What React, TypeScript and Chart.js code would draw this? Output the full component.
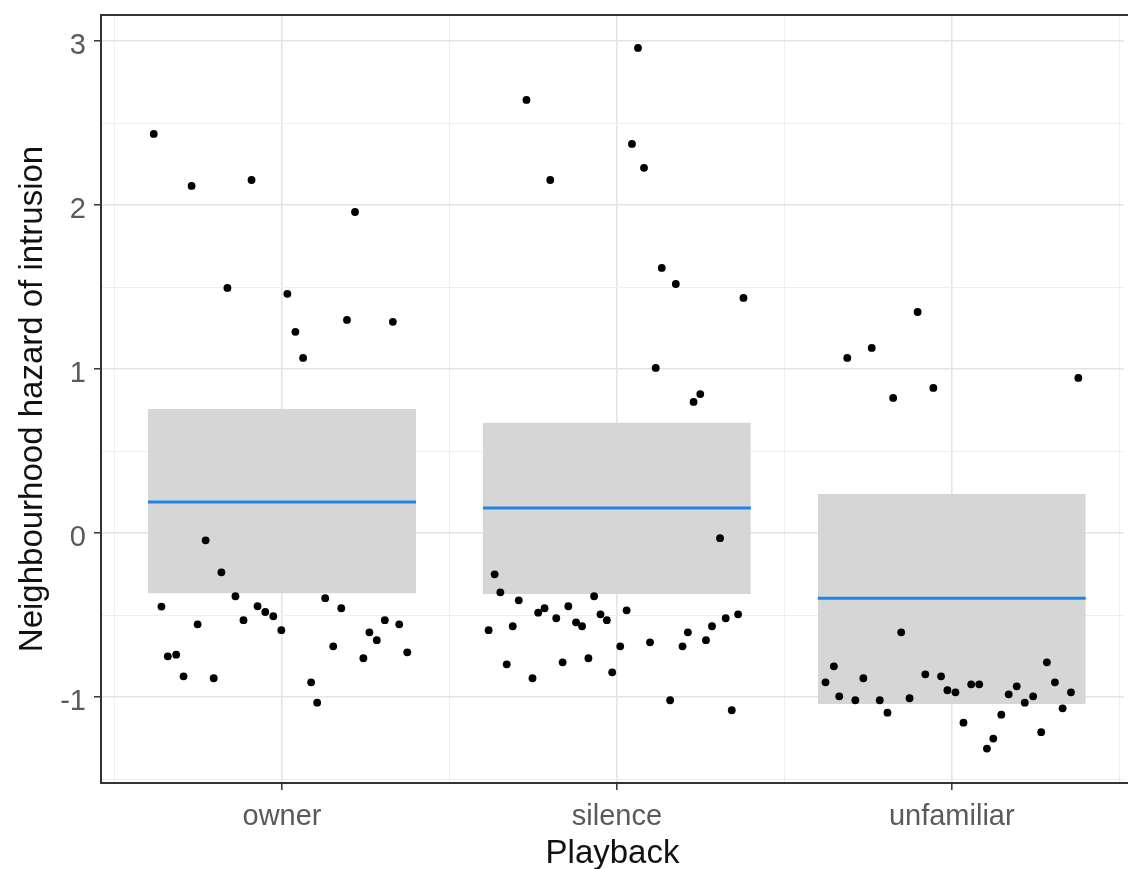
import React, { useEffect, useRef } from 'react';
import { Chart, registerables } from 'chart.js';

Chart.register(...registerables);

const categories = ['owner', 'silence', 'unfamiliar'];

// horizontal jitter (offset from category centre) and value of each point
const ownerJitter = [-0.383, -0.270, -0.091, 0.218, -0.163, 0.016, 0.040, 0.063, 0.194, 0.331, -0.228, -0.181, -0.139, -0.360, -0.073, -0.050, -0.026, -0.252, -0.115, -0.002, -0.341, -0.316, -0.294, -0.204, 0.087, 0.105, 0.129, 0.177, 0.153, 0.307, 0.350, 0.261, 0.283, 0.243, 0.374];
const ownerValues = [2.435, 2.118, 2.154, 1.959, 1.496, 1.460, 1.228, 1.069, 1.301, 1.289, -0.043, -0.238, -0.384, -0.447, -0.445, -0.480, -0.506, -0.555, -0.530, -0.591, -0.750, -0.740, -0.872, -0.884, -0.909, -1.033, -0.396, -0.457, -0.689, -0.530, -0.555, -0.604, -0.652, -0.762, -0.726];

const silenceJitter = [-0.270, -0.199, 0.045, 0.081, 0.134, 0.176, 0.378, 0.116, 0.249, 0.229, 0.063, 0.308, -0.365, -0.348, -0.293, -0.068, -0.235, -0.216, -0.145, -0.181, -0.122, -0.104, -0.049, -0.030, 0.029, -0.383, -0.311, -0.329, -0.252, -0.162, -0.085, -0.014, 0.010, 0.099, 0.196, 0.212, 0.266, 0.284, 0.325, 0.362, 0.159, 0.343];
const silenceValues = [2.642, 2.154, 2.374, 2.228, 1.618, 1.520, 1.435, 1.008, 0.849, 0.801, 2.959, -0.030, -0.250, -0.360, -0.409, -0.384, -0.484, -0.457, -0.445, -0.518, -0.543, -0.567, -0.494, -0.530, -0.470, -0.591, -0.567, -0.799, -0.884, -0.787, -0.762, -0.848, -0.689, -0.665, -0.689, -0.604, -0.652, -0.567, -0.518, -0.494, -1.018, -1.079];

const unfamiliarJitter = [-0.102, -0.239, -0.312, -0.055, -0.175, 0.378, -0.151, -0.377, -0.352, -0.336, -0.288, -0.264, -0.215, -0.192, -0.126, -0.079, -0.032, -0.013, 0.011, 0.035, 0.058, 0.082, 0.105, 0.124, 0.148, 0.170, 0.194, 0.218, 0.243, 0.267, 0.284, 0.308, 0.331, 0.356];
const unfamiliarValues = [1.349, 1.130, 1.069, 0.886, 0.825, 0.947, -0.604, -0.909, -0.811, -0.994, -1.018, -0.884, -1.018, -1.094, -1.006, -0.860, -0.872, -0.957, -0.970, -1.155, -0.921, -0.921, -1.313, -1.252, -1.106, -0.982, -0.933, -1.033, -0.994, -1.213, -0.787, -0.909, -1.067, -0.970];

// model estimates per category
const meanValues = [0.191, 0.154, -0.396];
const ciLower = [-0.366, -0.370, -1.041];
const ciUpper = [0.758, 0.674, 0.240];
const boxHalfWidth = 0.4;

// axes
const yTickValues = [-1.5, -1, -0.5, 0, 0.5, 1, 1.5, 2, 2.5, 3];
const xTickValues = [0.5, 1, 1.5, 2, 2.5, 3, 3.5];
const xMin = 0.4595;
const xMax = 3.5143;
const yMin = -1.5226;
const yMax = 3.16;

const FONT = '"Liberation Sans", Arial, sans-serif';

const panelBorder = {
  id: 'panelBorder',
  afterDatasetsDraw(chart: any) {
    const { ctx, chartArea } = chart;
    const { left, top, right, bottom } = chartArea;
    ctx.save();
    ctx.strokeStyle = '#333333';
    ctx.lineWidth = 2;
    ctx.strokeRect(left, top, right - left + 20, bottom - top);
    ctx.restore();
  },
};

export default function App() {
  const ref = useRef<HTMLCanvasElement | null>(null);

  useEffect(() => {
    if (!ref.current) return;
    const jitters = [ownerJitter, silenceJitter, unfamiliarJitter];
    const values = [ownerValues, silenceValues, unfamiliarValues];
    const points: { x: number; y: number }[] = [];
    jitters.forEach((jit, ci) => {
      jit.forEach((j, i) => points.push({ x: ci + 1 + j, y: values[ci][i] }));
    });

    const datasets: any[] = [];
    datasets.push({
      type: 'scatter',
      data: points,
      pointRadius: 3.9,
      pointBackgroundColor: '#000000',
      pointBorderWidth: 0,
      order: 0,
    });
    categories.forEach((_, ci) => {
      const c = ci + 1;
      datasets.push({
        type: 'line',
        data: [{ x: c - boxHalfWidth, y: meanValues[ci] }, { x: c + boxHalfWidth, y: meanValues[ci] }],
        borderColor: '#1f84e4',
        borderWidth: 3,
        pointRadius: 0,
        fill: false,
        order: 1,
      });
    });
    categories.forEach((_, ci) => {
      const c = ci + 1;
      datasets.push({
        type: 'line',
        data: [{ x: c - boxHalfWidth, y: ciUpper[ci] }, { x: c + boxHalfWidth, y: ciUpper[ci] }],
        borderWidth: 0,
        borderColor: 'rgba(0,0,0,0)',
        backgroundColor: '#d6d6d6',
        pointRadius: 0,
        fill: '+1',
        order: 2,
      });
      datasets.push({
        type: 'line',
        data: [{ x: c - boxHalfWidth, y: ciLower[ci] }, { x: c + boxHalfWidth, y: ciLower[ci] }],
        borderWidth: 0,
        borderColor: 'rgba(0,0,0,0)',
        pointRadius: 0,
        fill: false,
        order: 2,
      });
    });

    const isInt = (v: number) => Math.abs(v - Math.round(v)) < 1e-9;

    const chart = new Chart(ref.current, {
      type: 'scatter',
      data: { datasets },
      plugins: [panelBorder],
      options: {
        animation: false,
        responsive: false,
        devicePixelRatio: 1,
        events: [],
        layout: { padding: { top: 15, left: 0, right: 0, bottom: 0 } },
        plugins: { legend: { display: false }, tooltip: { enabled: false } },
        scales: {
          x: {
            type: 'linear',
            min: xMin,
            max: xMax,
            afterBuildTicks: (s: any) => {
              s.ticks = xTickValues.map((v) => ({ value: v }));
            },
            afterFit: (s: any) => {
              s.height = 86;
              s.paddingLeft = 0;
              s.paddingRight = 0;
            },
            ticks: {
              autoSkip: false,
              maxRotation: 0,
              padding: 10,
              color: '#5a5a5a',
              font: { family: FONT, size: 29 },
              callback: (v: any) => (isInt(v) ? categories[Math.round(v) - 1] : ''),
            },
            grid: {
              color: (ctx: any) => (ctx.tick && isInt(ctx.tick.value) ? '#e4e4e4' : '#efefef'),
              lineWidth: (ctx: any) => (ctx.tick && isInt(ctx.tick.value) ? 1.6 : 1),
              tickColor: (ctx: any) => (ctx.tick && isInt(ctx.tick.value) ? '#333333' : 'rgba(0,0,0,0)'),
              tickLength: 7,
              tickWidth: 1.5,
            },
            border: { display: false },
            title: {
              display: true,
              text: 'Playback',
              color: '#111111',
              font: { family: FONT, size: 33, lineHeight: 0.9 },
              padding: 0,
            },
          },
          y: {
            type: 'linear',
            min: yMin,
            max: yMax,
            afterBuildTicks: (s: any) => {
              s.ticks = yTickValues.map((v) => ({ value: v }));
            },
            afterFit: (s: any) => {
              s.width = 101;
              s.paddingTop = 0;
              s.paddingBottom = 0;
            },
            ticks: {
              autoSkip: false,
              padding: 8,
              labelOffset: 5,
              color: '#5a5a5a',
              font: { family: FONT, size: 29 },
              callback: (v: any) => (isInt(v) ? String(Math.round(v)) : ''),
            },
            grid: {
              color: (ctx: any) => (ctx.tick && isInt(ctx.tick.value) ? '#e4e4e4' : '#efefef'),
              lineWidth: (ctx: any) => (ctx.tick && isInt(ctx.tick.value) ? 1.6 : 1),
              tickColor: (ctx: any) => (ctx.tick && isInt(ctx.tick.value) ? '#333333' : 'rgba(0,0,0,0)'),
              tickLength: 7,
              tickWidth: 1.5,
            },
            border: { display: false },
            title: {
              display: true,
              text: 'Neighbourhood hazard of intrusion',
              color: '#111111',
              font: { family: FONT, size: 33 },
              padding: { top: 13, bottom: 0 },
            },
          },
        },
      } as any,
    });
    return () => chart.destroy();
  }, []);

  return (
    <div style={{ position: 'fixed', left: 0, top: 0, width: 1128, height: 869, background: '#ffffff' }}>
      <canvas ref={ref} width={1128} height={869} />
    </div>
  );
}
